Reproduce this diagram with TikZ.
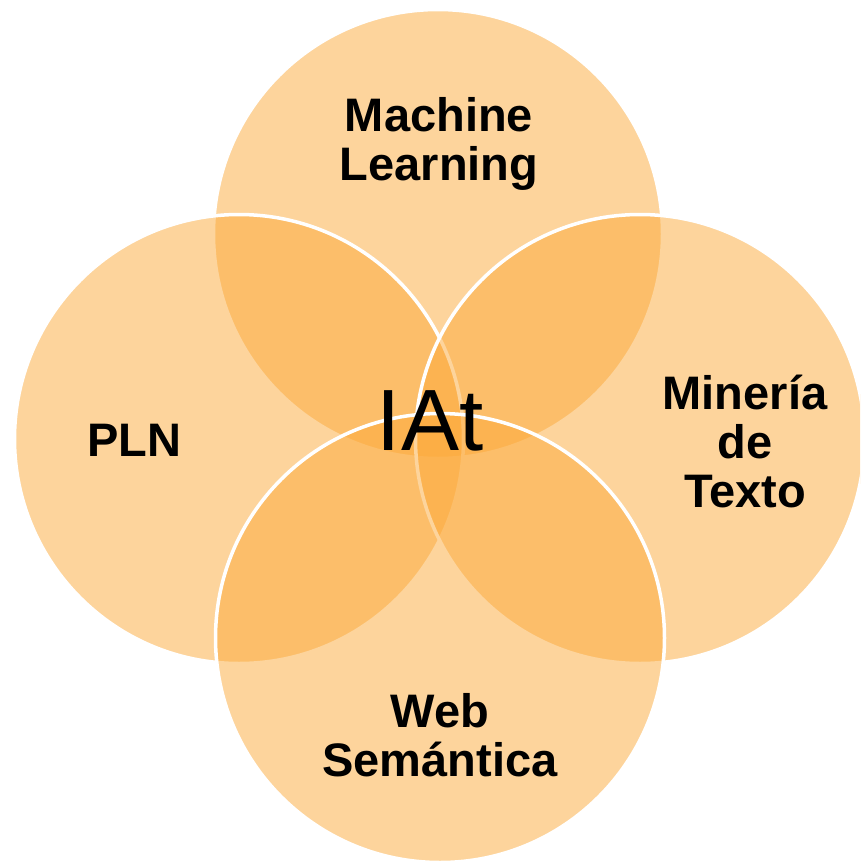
\documentclass[tikz,border=0pt]{standalone}
\usepackage{fontspec}
\setmainfont{Liberation Sans}
\begin{document}
\begin{tikzpicture}[x=1pt,y=-1pt,
  petal/.style={circle, minimum size=449pt, inner sep=0pt, draw=white,
    line width=3.5pt, fill={rgb,255:red,252;green,170;blue,58}, fill opacity=0.5},
  topic/.style={align=center, font=\fontsize{47}{49}\selectfont\bfseries, text=black},
  core/.style={font=\fontsize{87}{87}\selectfont, text=black}]
  \fill[white] (0,0) rectangle (860,865);
  \useasboundingbox (0,0) rectangle (860,865);
  \clip (0,0) rectangle (860,865);
  % the four overlapping circles, back to front
  \node[petal] (ml)  at (438,234) {};
  \node[petal] (pln) at (239,439) {};
  \node[petal] (mt)  at (640,439) {};
  \node[petal] (ws)  at (440,638) {};
  % labels
  \node[topic] (mlt)  at (439,144) {Machine\\Learning};
  \node[topic] (plnt) at (134,440) {PLN};
  \node[topic] (mtt)  at (745,441) {Minería\\de\\Texto};
  \node[topic] (wst)  at (440,735) {Web\\Semántica};
  \node[core]  (iat)  at (430,421) {IAt};
\end{tikzpicture}
\end{document}
